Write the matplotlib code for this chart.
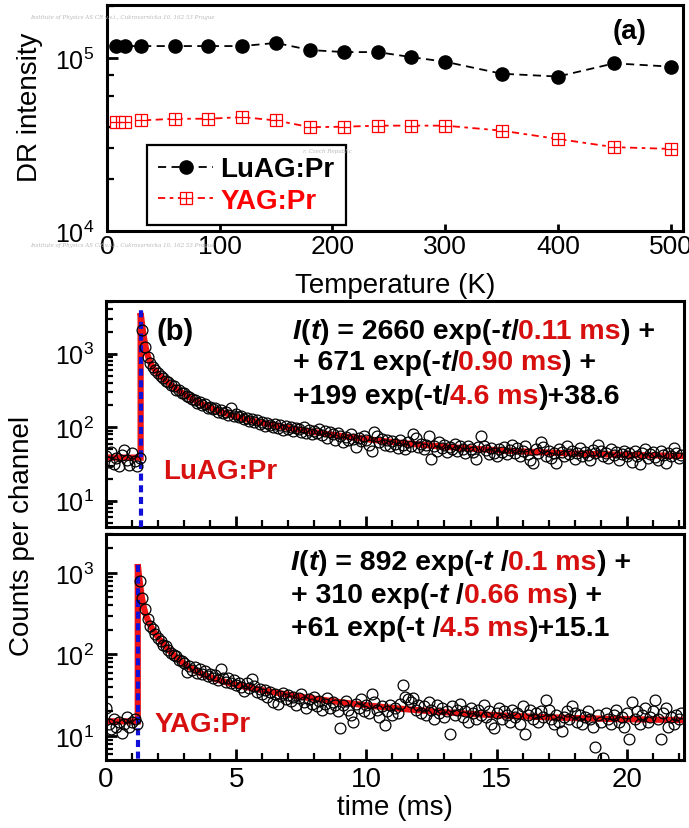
import numpy as np
import matplotlib
matplotlib.use('Agg')
import matplotlib.pyplot as plt
from matplotlib.ticker import LogLocator, MultipleLocator, NullFormatter, FixedLocator

plt.rcParams['font.family'] = 'Liberation Sans'
plt.rcParams['mathtext.fontset'] = 'custom'
plt.rcParams['mathtext.rm'] = 'Liberation Sans'
plt.rcParams['mathtext.it'] = 'Liberation Sans:italic'
plt.rcParams['mathtext.bf'] = 'Liberation Sans:bold'

# ---- (a) diffuse reflectance intensity vs temperature
temp = [8, 16, 30, 60, 90, 120, 150, 180, 210, 240, 270, 300, 350, 400, 450, 500]
dr_luag = [1.17e5, 1.17e5, 1.17e5, 1.17e5, 1.17e5, 1.17e5, 1.22e5, 1.11e5,
           1.08e5, 1.08e5, 1.01e5, 9.5e4, 8.1e4, 7.8e4, 9.3e4, 8.9e4]
dr_yag = [4.29e4, 4.29e4, 4.35e4, 4.45e4, 4.45e4, 4.55e4, 4.35e4, 3.98e4,
          4.0e4, 4.06e4, 4.06e4, 4.06e4, 3.8e4, 3.4e4, 3.05e4, 2.98e4]

# ---- (b) decay curves, one channel every 0.1 ms starting at 0
channel_ms = 0.1
counts_luag = [
    40, 34, 46, 32, 38, 30, 42, 49, 36, 31, 44, 35, 30, 38,
    2080, 1245, 900, 740, 665, 600, 548, 500, 470, 420,
    410, 370, 362, 325, 320, 292, 288, 262, 258, 240,
    238, 215, 222, 200, 204, 185, 190, 176, 184, 162,
    170, 155, 160, 148, 180, 140, 150, 136, 142, 128,
    134, 120, 131, 118, 124, 110, 119, 104, 115, 108,
    100, 112, 98, 106, 92, 104, 96, 102, 88, 98,
    94, 86, 100, 84, 93, 80, 90, 84, 96, 78,
    88, 72, 86, 80, 68, 84, 76, 62, 74, 66,
    80, 70, 54, 72, 64, 76, 68, 58, 48, 87,
    77, 62, 70, 58, 66, 56, 64, 60, 52, 66,
    58, 50, 62, 56, 82, 72, 54, 60, 50, 58,
    77, 37, 56, 48, 62, 52, 58, 46, 54, 50,
    60, 48, 55, 51, 44, 56, 50, 46, 37, 54,
    77, 56, 49, 43, 52, 45, 41, 50, 46, 54,
    43, 49, 58, 44, 52, 40, 47, 56, 43, 36,
    33, 50, 45, 62, 54, 41, 48, 38, 44, 33,
    51, 46, 40, 55, 43, 48, 37, 45, 52, 40,
    46, 42, 36, 49, 44, 58, 47, 40, 45, 38,
    50, 42, 46, 36, 43, 48, 40, 44, 34, 47,
    41, 32, 45, 50, 38, 43, 46, 39, 36, 48,
    42, 33, 44, 40, 52, 45, 38, 42]
counts_yag = [
    22, 14, 12, 16, 13, 15, 11, 14, 17, 13, 15, 16, 14,
    805, 490, 362, 270, 226, 205, 176, 158, 148, 132,
    127, 112, 104, 99, 95, 86, 83, 78, 61, 72,
    64, 70, 60, 66, 57, 62, 55, 58, 52, 56,
    49, 66, 51, 46, 52, 44, 48, 42, 45, 40,
    36, 44, 39, 50, 41, 35, 38, 33, 37, 30,
    35, 26, 33, 25, 31, 34, 28, 32, 27, 30,
    24, 29, 33, 26, 22, 28, 25, 30, 23, 27,
    21, 25, 29, 22, 26, 24, 20, 12.6, 24, 27,
    21, 18, 15, 25, 22, 28, 20, 24, 19, 33,
    26, 21, 17, 23, 13.7, 20, 24, 18, 22, 19,
    25, 41.6, 30, 28, 26, 29, 21, 24, 19, 23,
    18, 26, 21, 16, 24, 19, 22, 17, 20, 10.6,
    23, 18, 21, 25, 17, 20, 15, 22, 19, 16,
    21, 18, 24, 17, 20, 13.9, 12.6, 19, 22, 16,
    20, 18, 15, 21, 17, 19, 14, 23, 10.6, 18,
    21, 16, 19, 15, 20, 17, 27.9, 21, 16, 14,
    18, 15, 11.5, 17, 20, 16, 23, 19, 15, 18,
    14, 17, 20, 16, 13, 7.3, 18, 15, 5.4, 19,
    16, 14, 18, 21, 15, 17, 13, 19, 9.3, 26,
    16, 20, 14, 18, 22, 15, 17, 20, 27.6, 16,
    9.3, 19, 22, 12.9, 17, 14, 18, 16, 19]

# fit parameters printed on the chart
amp_luag = [2660, 671, 199]
tau_luag = [0.11, 0.90, 4.6]
off_luag = 38.6
amp_yag = [892, 310, 61]
tau_yag = [0.1, 0.66, 4.5]
off_yag = 15.1
t0_luag = 1.33      # excitation pulse position (ms)
t0_yag = 1.22
pulse_top = [4200, 1300]

RED = '#d80f0f'
FITRED = '#f01414'
BLUE = '#1010d8'


def fit_curve(t0, amps, taus, off, tmax=22.3):
    tt = np.linspace(0, tmax - t0, 1500)
    y = off + sum(a * np.exp(-tt / tau) for a, tau in zip(amps, taus))
    return np.concatenate([[0, t0], t0 + tt]), np.concatenate([[off, off], y])


def multi_text(ax, x, y, parts, size=20.5):
    prev = None
    for s, color, style in parts:
        kw = dict(fontsize=size, fontweight='bold', fontstyle=style, color=color)
        if prev is None:
            prev = ax.text(x, y, s, transform=ax.transAxes, ha='left', va='center', **kw)
        else:
            prev = ax.annotate(s, xy=(1, 0), xycoords=prev, ha='left', va='bottom', **kw)


fig = plt.figure(figsize=(6.89, 8.29), dpi=100)
ax_a = fig.add_axes([107 / 689, 1 - 232 / 829, 576 / 689, 226 / 829])
ax_b1 = fig.add_axes([106 / 689, 1 - 528 / 829, 578 / 689, 226 / 829])
ax_b2 = fig.add_axes([106 / 689, 1 - 761 / 829, 578 / 689, 226 / 829])

for ax in (ax_a, ax_b1, ax_b2):
    for sp in ax.spines.values():
        sp.set_linewidth(2.2)

# ---------- panel (a)
l_lu, = ax_a.plot(temp, dr_luag, color='k', ls=(0, (4.5, 3)), lw=1.3, marker='o',
                  ms=9.5, mfc='k', mec='k')
l_y1, = ax_a.plot(temp, dr_yag, color='red', ls=(0, (4, 2.5, 2, 2.5)), lw=1.3,
                  marker='s', ms=8, mfc='white', mec='red', mew=0.9)
l_y2, = ax_a.plot(temp, dr_yag, ls='none', marker='+', ms=8, mec='red', mew=0.9)
ax_a.set_yscale('log')
ax_a.set_xlim(0, 511)
ax_a.set_ylim(1e4, 2.02e5)
ax_a.yaxis.set_major_locator(FixedLocator([1e4, 1e5]))
ax_a.yaxis.set_minor_locator(FixedLocator([2e4, 3e4, 4e4, 6e4, 8e4, 2e5]))
ax_a.yaxis.set_minor_formatter(NullFormatter())
ax_a.xaxis.set_major_locator(MultipleLocator(100))
ax_a.tick_params(axis='x', direction='in', length=5, width=2, labelsize=19, pad=2)
ax_a.tick_params(axis='y', which='major', direction='in', length=8, width=2,
                 labelsize=18, pad=9)
ax_a.tick_params(axis='y', which='minor', direction='in', length=5, width=1.6)
ax_a.set_xlabel('Temperature (K)', fontsize=20, labelpad=10)
fig.text(30 / 689, 1 - 107 / 829, 'DR intensity', fontsize=20, rotation=90,
         ha='center', va='center')
ax_a.text(0.908, 0.885, '(a)', transform=ax_a.transAxes, fontsize=20,
          fontweight='bold', ha='center', va='center')
leg = ax_a.legend([l_lu, (l_y1, l_y2)], ['LuAG:Pr', 'YAG:Pr'], loc='lower left',
                  bbox_to_anchor=(0.069, 0.027), borderaxespad=0, fancybox=False,
                  framealpha=1, edgecolor='k', handlelength=2.0, handletextpad=0.25,
                  borderpad=0.4, labelspacing=0.2,
                  prop={'size': 20, 'weight': 'bold'})
leg.get_frame().set_linewidth(1.6)
leg.get_texts()[1].set_color('red')

# faint scanner stamps present on the original figure
stamp = 'Institute of Physics AS CR v.v.i., Cukrovarnicka 10, 162 53 Prague'
fig.text(30 / 689, 1 - 17 / 829, stamp, fontsize=4, color='#b8b8b8', va='center',
         family='DejaVu Serif', style='italic')
fig.text(30 / 689, 1 - 246 / 829, stamp, fontsize=4, color='#b8b8b8', va='center',
         family='DejaVu Serif', style='italic')
fig.text(303 / 689, 1 - 152 / 829, 'r, Czech Republic', fontsize=4, color='#b8b8b8',
         va='center', family='DejaVu Serif', style='italic')

# ---------- panels (b)
panels = [
    (ax_b1, counts_luag, t0_luag, amp_luag, tau_luag, off_luag, pulse_top[0], (4.4, 5200)),
    (ax_b2, counts_yag, t0_yag, amp_yag, tau_yag, off_yag, pulse_top[1], (5.07, 3000)),
]
for ax, counts, t0, amps, taus, off, ptop, ylim in panels:
    t = np.arange(len(counts)) * channel_ms
    tf, yf = fit_curve(t0, amps, taus, off)
    ax.plot(tf, yf, color=FITRED, lw=4.5, solid_joinstyle='miter', zorder=2)
    ax.plot([t0, t0], [1, ptop], color=BLUE, lw=3, ls=(0, (1.7, 1.1)), zorder=3)
    ax.plot(t, counts, 'o', mfc='none', mec='k', ms=7.8, mew=0.9, zorder=4)
    ax.set_yscale('log')
    ax.set_ylim(*ylim)
    ax.set_xlim(0, 22.2)
    ax.yaxis.set_major_locator(LogLocator(base=10, numticks=10))
    ax.yaxis.set_minor_locator(LogLocator(base=10, subs=np.arange(2, 10), numticks=10))
    ax.yaxis.set_minor_formatter(NullFormatter())
    ax.xaxis.set_major_locator(MultipleLocator(5))
    ax.xaxis.set_minor_locator(MultipleLocator(1))
    ax.tick_params(which='major', direction='in', length=8, width=2, labelsize=18)
    ax.tick_params(which='minor', direction='in', length=5, width=1.6)
    ax.tick_params(axis='y', pad=9)
    ax.tick_params(axis='x', labelsize=20, pad=4)

ax_b1.tick_params(axis='x', labelbottom=False)
ax_b2.set_xlabel('time (ms)', fontsize=20, labelpad=2)
fig.text(22 / 689, 1 - 536 / 829, 'Counts per channel', fontsize=20, rotation=90,
         ha='center', va='center')

ax_b1.text(0.12, 0.867, '(b)', transform=ax_b1.transAxes, fontsize=21,
           fontweight='bold', ha='center', va='center')
ax_b1.text(0.0986, 0.248, 'LuAG:Pr', transform=ax_b1.transAxes, fontsize=20,
           fontweight='bold', color=RED, ha='left', va='center')
ax_b2.text(0.0848, 0.159, 'YAG:Pr', transform=ax_b2.transAxes, fontsize=20,
           fontweight='bold', color=RED, ha='left', va='center')

k = 'k'
multi_text(ax_b1, 0.3235, 0.867, [('I', k, 'italic'), ('(', k, 'normal'), ('t', k, 'italic'),
                                  (') = 2660 exp(-', k, 'normal'), ('t', k, 'italic'),
                                  ('/', k, 'normal'), ('0.11 ms', RED, 'normal'),
                                  (') +', k, 'normal')])
multi_text(ax_b1, 0.3235, 0.730, [('+ 671 exp(-', k, 'normal'), ('t', k, 'italic'),
                                  ('/', k, 'normal'), ('0.90 ms', RED, 'normal'),
                                  (') +', k, 'normal')])
multi_text(ax_b1, 0.3235, 0.580, [('+199 exp(-t/', k, 'normal'), ('4.6 ms', RED, 'normal'),
                                  (')+38.6', k, 'normal')])

multi_text(ax_b2, 0.320, 0.876, [('I', k, 'italic'), ('(', k, 'normal'), ('t', k, 'italic'),
                                 (') = 892 exp(-', k, 'normal'), ('t', k, 'italic'),
                                 (' /', k, 'normal'), ('0.1 ms', RED, 'normal'),
                                 (') +', k, 'normal')])
multi_text(ax_b2, 0.320, 0.730, [('+ 310 exp(-', k, 'normal'), ('t', k, 'italic'),
                                 (' /', k, 'normal'), ('0.66 ms', RED, 'normal'),
                                 (') +', k, 'normal')])
multi_text(ax_b2, 0.320, 0.584, [('+61 exp(-t /', k, 'normal'), ('4.5 ms', RED, 'normal'),
                                 (')+15.1', k, 'normal')])

fig.savefig('out.png', dpi=100)
